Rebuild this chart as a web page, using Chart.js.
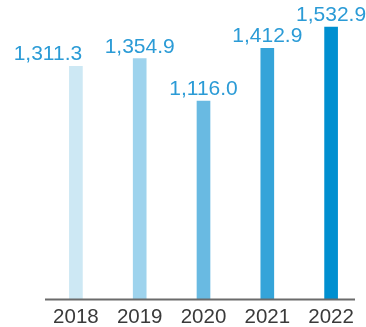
<!DOCTYPE html>
<html>
<head>
<meta charset="utf-8">
<script src="https://cdn.jsdelivr.net/npm/chart.js@4/dist/chart.umd.min.js"></script>
<style>
  html, body { margin: 0; padding: 0; background: #ffffff; }
  #wrap { width: 366px; height: 327px; position: relative; }
</style>
</head>
<body>
<div id="wrap"><canvas id="c"></canvas></div>
<script>
const categories = ['2018', '2019', '2020', '2021', '2022'];
const values = [1311.3, 1354.9, 1116.0, 1412.9, 1532.9];
const valueLabels = ['1,311.3', '1,354.9', '1,116.0', '1,412.9', '1,532.9'];
const barColors = ['#cde8f4', '#9ed3ed', '#69bae2', '#35a4d9', '#008fd0'];

const valueLabelPlugin = {
  id: 'valueLabels',
  afterDatasetsDraw(chart, args, opts) {
    const ctx = chart.ctx;
    const meta = chart.getDatasetMeta(0);
    ctx.save();
    ctx.font = opts.font;
    ctx.fillStyle = opts.color;
    ctx.textAlign = 'center';
    ctx.textBaseline = 'alphabetic';
    meta.data.forEach((bar, i) => {
      const dx = (opts.xShift && opts.xShift[i]) || 0;
      ctx.fillText(valueLabels[i], bar.x + dx, bar.y - opts.gap);
    });
    ctx.restore();
  }
};

const baselinePlugin = {
  id: 'baseline',
  afterDatasetsDraw(chart, args, opts) {
    const ctx = chart.ctx;
    const y = chart.scales.y.getPixelForValue(0);
    ctx.save();
    ctx.strokeStyle = opts.color;
    ctx.lineWidth = opts.width;
    ctx.beginPath();
    ctx.moveTo(opts.left, y);
    ctx.lineTo(opts.right, y);
    ctx.stroke();
    ctx.restore();
  }
};

new Chart(document.getElementById('c'), {
  type: 'bar',
  data: {
    labels: categories,
    datasets: [{
      data: values,
      backgroundColor: barColors,
      borderWidth: 0,
      barThickness: 13
    }]
  },
  options: {
    responsive: true,
    maintainAspectRatio: false,
    animation: false,
    layout: { padding: { left: 44, right: 3, top: 0, bottom: -9 } },
    plugins: {
      legend: { display: false },
      tooltip: { enabled: false },
      valueLabels: {
        font: '21px "Liberation Sans", Arial, sans-serif',
        color: '#2b9bd6',
        gap: 6,
        xShift: [-28, 0, 0, 0, 0]
      },
      baseline: { color: '#6b6b6b', width: 2, left: 45, right: 355 }
    },
    scales: {
      x: {
        grid: { display: false, drawTicks: false },
        border: { display: false },
        ticks: {
          color: '#3a3a3a',
          padding: 8,
          font: { family: '"Liberation Sans", Arial, sans-serif', size: 20.5, lineHeight: 1 }
        }
      },
      y: {
        display: false,
        min: 0,
        max: 1685
      }
    }
  },
  plugins: [valueLabelPlugin, baselinePlugin]
});
</script>
</body>
</html>
